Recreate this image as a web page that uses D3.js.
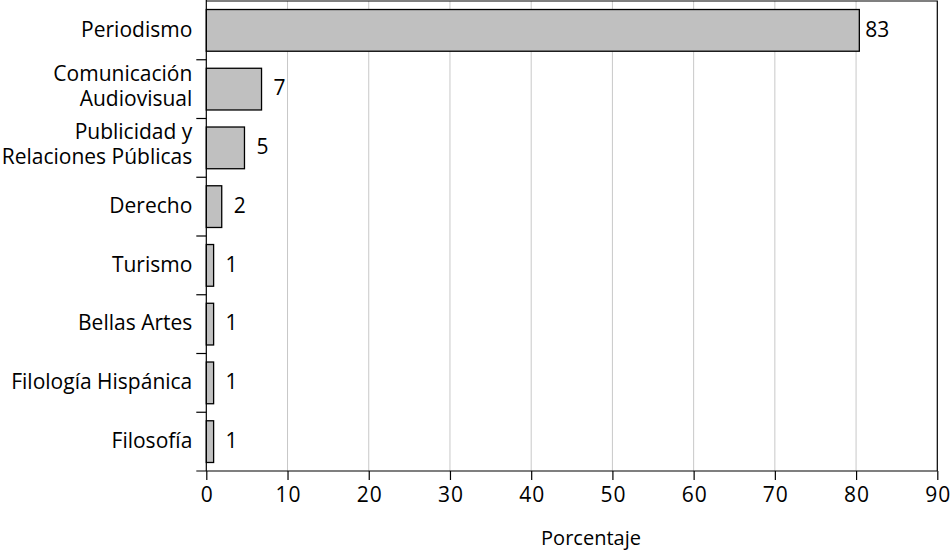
<!DOCTYPE html>
<html>
<head>
<meta charset="utf-8">
<script src="https://cdn.jsdelivr.net/npm/d3@7"></script>
<style>
  body { margin: 0; background: #fff; }
  svg { display: block; font-family: "Open Sans", sans-serif; }
</style>
</head>
<body>
<svg width="950" height="553"></svg>
<script>
// categories, top to bottom; "\n" marks a line break
var categories = ["Periodismo", "Comunicación\nAudiovisual", "Publicidad y\nRelaciones Públicas",
                  "Derecho", "Turismo", "Bellas Artes", "Filología Hispánica", "Filosofía"];
// bar lengths as drawn in the picture
var values = [80.4, 6.8, 4.7, 1.9, 0.9, 0.9, 0.9, 0.9];
// printed value labels
var valueLabels = ["83", "7", "5", "2", "1", "1", "1", "1"];
var xTicks = [0, 10, 20, 30, 40, 50, 60, 70, 80, 90];
var xTitle = "Porcentaje";

var plotLeft = 206.3, plotRight = 937.3, plotTop = 1, plotBottom = 471;
var svg = d3.select("svg");

var x = d3.scaleLinear().domain([0, 90]).range([plotLeft, plotRight]);
var y = d3.scaleBand().domain(d3.range(categories.length)).range([plotTop, plotBottom])
    .paddingInner(0.29).paddingOuter(0.145);

// grid
svg.append("g").selectAll("line")
    .data(xTicks.filter(function(d) { return d > 0 && d < 90; }))
  .enter().append("line")
    .attr("x1", function(d) { return x(d); })
    .attr("x2", function(d) { return x(d); })
    .attr("y1", plotTop).attr("y2", plotBottom)
    .attr("stroke", "#c8c8c8").attr("stroke-width", 1);

// frame top and right
svg.append("path")
    .attr("d", "M" + plotLeft + "," + plotTop + "H" + plotRight + "V" + plotBottom)
    .attr("fill", "none").attr("stroke", "#000").attr("stroke-width", 1.2);

// bars
svg.append("g").selectAll("rect")
    .data(values)
  .enter().append("rect")
    .attr("x", x(0))
    .attr("y", function(d, i) { return y(i); })
    .attr("width", function(d) { return x(d) - x(0); })
    .attr("height", y.bandwidth())
    .attr("fill", "#c0c0c0")
    .attr("stroke", "#000").attr("stroke-width", 1.3);

// value labels
svg.append("g").selectAll("text")
    .data(values)
  .enter().append("text")
    .attr("x", function(d) { return x(d) + 18; })
    .attr("y", function(d, i) { return y(i) + y.bandwidth() / 2; })
    .attr("dy", "0.3em")
    .attr("text-anchor", "middle")
    .attr("font-size", 21)
    .text(function(d, i) { return valueLabels[i]; });

// x axis
var xAxis = svg.append("g")
    .attr("transform", "translate(0," + plotBottom + ")")
    .call(d3.axisBottom(x).tickValues(xTicks).tickSize(9).tickPadding(7));
xAxis.select(".domain").remove();
xAxis.append("line")
    .attr("x1", plotLeft - 10).attr("x2", plotRight)
    .attr("stroke", "#000").attr("stroke-width", 1.2);
xAxis.selectAll(".tick line").attr("stroke-width", 1.2);
xAxis.selectAll(".tick text")
    .attr("font-family", "Open Sans, sans-serif")
    .attr("font-size", 21)
    .attr("letter-spacing", 1)
    .attr("dx", 0.5)
    .attr("fill", "#000");

// y axis: line plus ticks at band boundaries
var yAxis = svg.append("g");
yAxis.append("line")
    .attr("x1", plotLeft).attr("x2", plotLeft)
    .attr("y1", plotTop - 1).attr("y2", plotBottom)
    .attr("stroke", "#000").attr("stroke-width", 1.2);
yAxis.selectAll(".bound")
    .data(d3.range(1, categories.length))
  .enter().append("line")
    .attr("x1", plotLeft - 10).attr("x2", plotLeft)
    .attr("y1", function(i) { return y(i) - y.step() * y.paddingInner() / 2; })
    .attr("y2", function(i) { return y(i) - y.step() * y.paddingInner() / 2; })
    .attr("stroke", "#000").attr("stroke-width", 1.2);

var cat = yAxis.selectAll(".cat")
    .data(categories)
  .enter().append("text")
    .attr("text-anchor", "end")
    .attr("font-size", 21)
    .attr("y", function(d, i) { return y(i) + y.bandwidth() / 2; });
cat.each(function(d) {
  var lines = d.split("\n"), t = d3.select(this);
  lines.forEach(function(s, k) {
    t.append("tspan")
        .attr("x", plotLeft - 14)
        .attr("dy", k === 0 ? (lines.length > 1 ? "-0.4em" : "0.3em") : "1.19em")
        .text(s);
  });
});

// axis title
svg.append("text")
    .attr("x", 591).attr("y", 545)
    .attr("text-anchor", "middle")
    .attr("font-size", 20)
    .text(xTitle);
</script>
</body>
</html>
